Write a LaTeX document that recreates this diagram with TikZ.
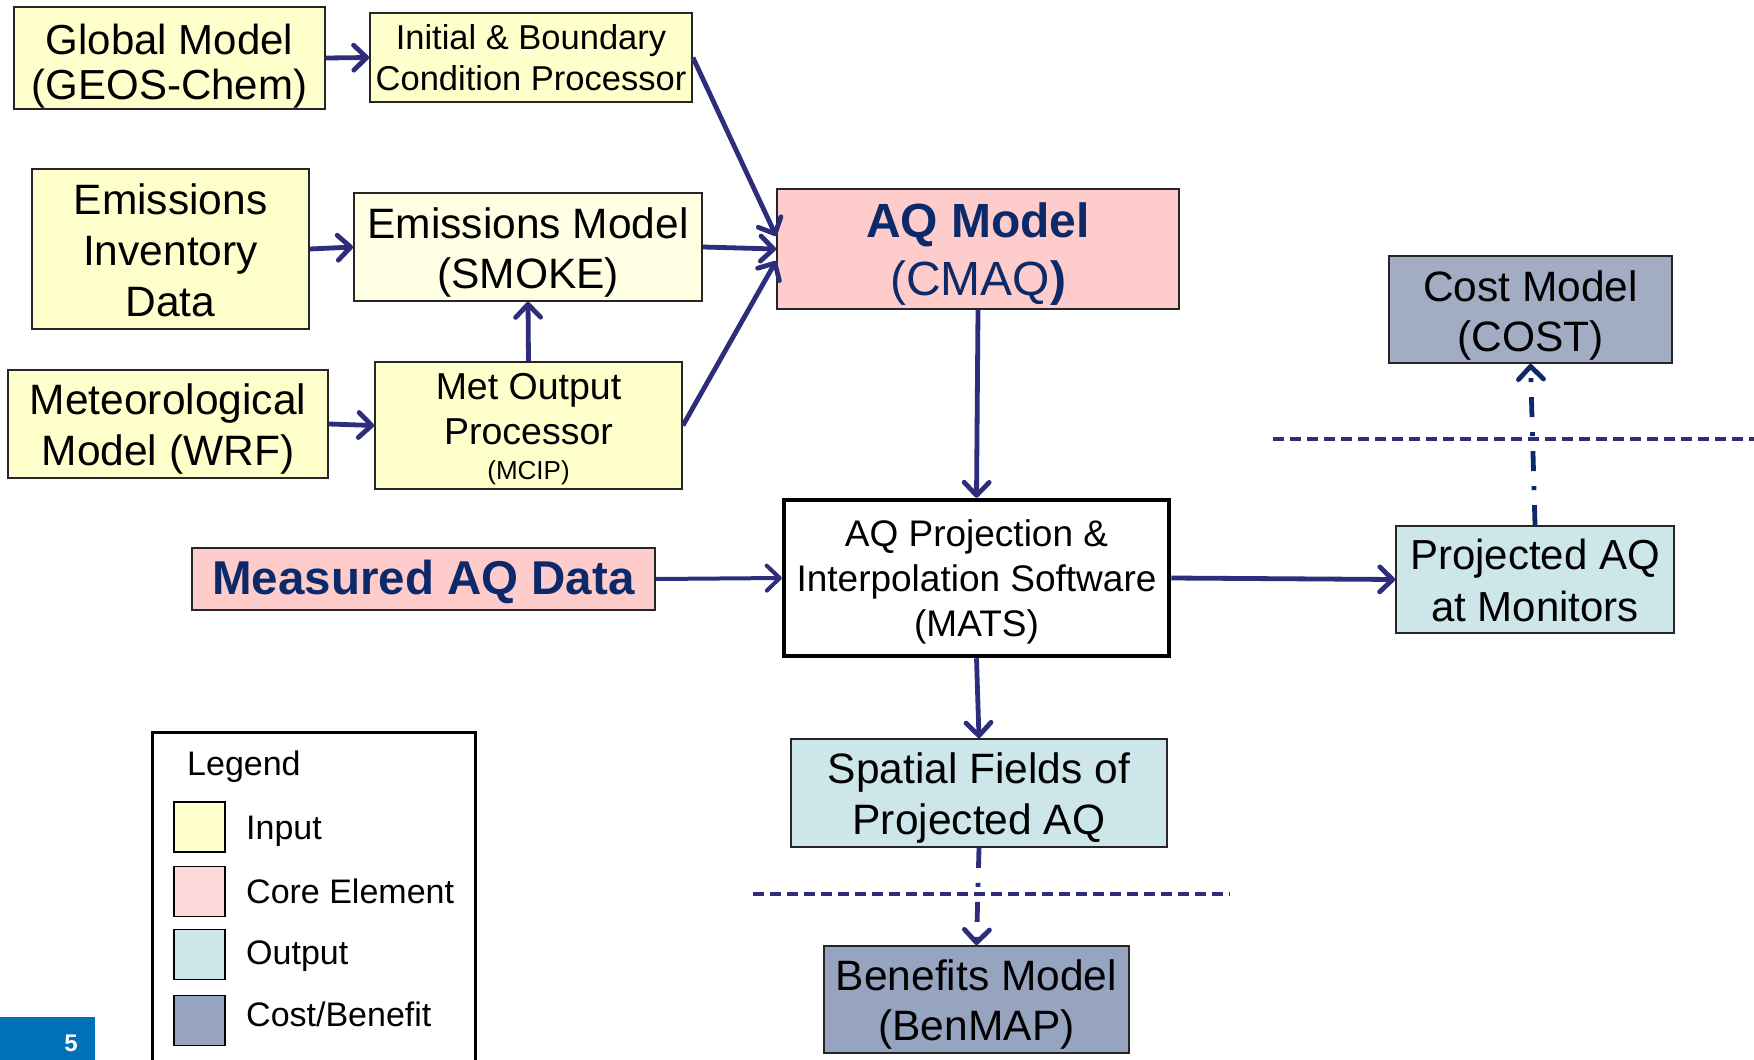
\documentclass[tikz,border=0pt]{standalone}
\usepackage{fontspec}
\setmainfont{Liberation Sans}
\usetikzlibrary{arrows.meta}
\definecolor{inputc}{HTML}{FFFFCC}
\definecolor{inputl}{HTML}{FFFFE3}
\definecolor{corec}{HTML}{FFCCCC}
\definecolor{corel}{HTML}{FFD9D9}
\definecolor{outc}{HTML}{CDE6E9}
\definecolor{costc}{HTML}{A2ADC4}
\definecolor{benc}{HTML}{97A4BF}
\definecolor{arrowc}{HTML}{2E2D7C}
\definecolor{navy}{HTML}{0C2A6A}
\definecolor{slideblue}{HTML}{0070B8}
\newcommand\fsz[2]{\fontsize{#1}{#2}\selectfont}
\begin{document}
\begin{tikzpicture}[x=1pt,y=-1pt,
  box/.style={draw=black!85, line width=1.8pt, inner sep=0pt},
  txt/.style={inner sep=0pt, align=center, text=black},
  conn/.style={draw=arrowc, line width=4.8pt, -{Straight Barb[length=13pt,width=25pt,round]}},
  dashdot/.style={draw=arrowc, line width=4.8pt, dash pattern=on 20pt off 15pt on 4pt off 15pt, -{Straight Barb[length=13pt,width=25pt,round]}},
  sepline/.style={draw=arrowc, line width=3.2pt, dash pattern=on 11pt off 6pt},
  swatch/.style={draw=black, line width=1.8pt, minimum width=51pt, minimum height=50pt, inner sep=0pt}]
\clip (0,0) rectangle (1754,1060);
\fill[white] (0,0) rectangle (1754,1060);

% input boxes
\node[box, fill=inputc, minimum width=311pt, minimum height=102pt] (gm) at (169.5,58) {};
\node[txt, font=\fsz{42}{45}] (gmt) at ([yshift=-8pt]gm.center) {Global Model\\(GEOS-Chem)};
\node[box, fill=inputc, minimum width=322pt, minimum height=89pt] (ib) at (531,57.5) {};
\node[txt, font=\fsz{34.5}{41}] (ibt) at (ib.center) {Initial \& Boundary\\Condition Processor};
\node[box, fill=inputc, minimum width=277pt, minimum height=160pt] (ei) at (170.5,249) {};
\node[txt, font=\fsz{42.5}{51}] (eit) at ([yshift=-1pt]ei.center) {Emissions\\Inventory\\Data};
\node[box, fill=inputl, minimum width=348pt, minimum height=108pt] (em) at (528,247) {};
\node[txt, font=\fsz{42.5}{50}] (emt) at ([yshift=-5.5pt]em.center) {Emissions Model\\(SMOKE)};
\node[box, fill=inputc, minimum width=320pt, minimum height=108pt] (met) at (168,424) {};
\node[txt, font=\fsz{42.5}{51}] (mett) at ([yshift=-4.5pt]met.center) {Meteorological\\Model (WRF)};
\node[box, fill=inputc, minimum width=307pt, minimum height=127pt] (mo) at (528.5,425.5) {};
\node[txt, font=\fsz{37.5}{45}] (mot) at ([yshift=-4pt]mo.center) {Met Output\\Processor\\[-10pt]{\fsz{26}{30}(MCIP)}};

% core
\node[box, fill=corec, minimum width=402pt, minimum height=120pt] (aq) at (978,249) {};
\node[txt, font=\fsz{48}{58}, text=navy] (aqt) at ([yshift=-5.5pt]aq.center) {\bfseries AQ Model\\(CMAQ{\bfseries )}};
\node[box, fill=corec, minimum width=463pt, minimum height=62pt] (meas) at (423.5,579) {};
\node[txt, font=\fsz{47.5}{52}\bfseries, text=navy] (meast) at ([yshift=-3pt]meas.center) {Measured AQ Data};
\node[box, draw=black, line width=4.5pt, fill=white, minimum width=385pt, minimum height=156pt] (mats) at (976.5,578) {};
\node[txt, font=\fsz{37}{45}] (matst) at ([yshift=-3.5pt]mats.center) {AQ Projection \&\\Interpolation Software\\(MATS)};

% outputs
\node[box, fill=outc, minimum width=278pt, minimum height=107pt] (proj) at (1535,579.5) {};
\node[txt, font=\fsz{42}{52}] (projt) at ([yshift=-1pt]proj.center) {Projected AQ\\at Monitors};
\node[box, fill=outc, minimum width=376pt, minimum height=108pt] (sf) at (979,793) {};
\node[txt, font=\fsz{42.5}{51}] (sft) at ([yshift=-5pt]sf.center) {Spatial Fields of\\Projected AQ};

% cost / benefit
\node[box, fill=costc, minimum width=283pt, minimum height=107pt] (cost) at (1530.5,309.5) {};
\node[txt, font=\fsz{42.5}{50}] (costt) at ([yshift=-5.5pt]cost.center) {Cost Model\\(COST)};
\node[box, fill=benc, minimum width=305pt, minimum height=107pt] (ben) at (976.5,999.5) {};
\node[txt, font=\fsz{42.5}{50}] (bent) at ([yshift=-5pt]ben.center) {Benefits Model\\(BenMAP)};

% connectors
\draw[conn] (gm.east) -- (ib.west);
\draw[conn] (ei.east) -- (em.west);
\draw[conn] (met.east) -- (mo.west);
\draw[conn] (mo.north) -- (em.south);
\draw[conn] (ib.east) -- ([yshift=13pt]aq.west);
\draw[conn] (em.east) -- (aq.west);
\draw[conn] (mo.east) -- ([yshift=-12pt]aq.west);
\draw[conn] (aq.south) -- (mats.north);
\draw[conn, line width=4pt] (meas.east) -- (mats.west);
\draw[conn] (mats.east) -- (proj.west);
\draw[conn] (mats.south) -- (sf.north);
\draw[dashdot] (sf.south) -- (ben.north);
\draw[dashdot, draw=navy] (proj.north) -- (cost.south);

% separator lines
\coordinate (s1a) at (1273,439);
\coordinate (s1b) at (1754,439);
\coordinate (s2a) at (753,894);
\coordinate (s2b) at (1230,894);
\draw[sepline] (s1a) -- (s1b);
\draw[sepline] (s2a) -- (s2b);

% legend
\node[draw=black, line width=3pt, minimum width=323pt, minimum height=360pt, inner sep=0pt, anchor=north west] (legend) at (151,731) {};
\node[font=\fsz{34}{40}, anchor=base west, inner sep=0pt] (legtitle) at (187,775) {Legend};
\node[swatch, fill=inputc] (sw1) at (199.5,827) {};
\node[swatch, fill=corel] (sw2) at (199.5,891.5) {};
\node[swatch, fill=outc] (sw3) at (199.5,954.5) {};
\node[swatch, fill=benc] (sw4) at (199.5,1020.5) {};
\node[font=\fsz{34}{40}, anchor=base west, inner sep=0pt] (lab1) at (246,839) {Input};
\node[font=\fsz{34}{40}, anchor=base west, inner sep=0pt] (lab2) at (246,903) {Core Element};
\node[font=\fsz{34}{40}, anchor=base west, inner sep=0pt] (lab3) at (246,964) {Output};
\node[font=\fsz{34}{40}, anchor=base west, inner sep=0pt] (lab4) at (246,1026) {Cost/Benefit};

% slide number
\node[fill=slideblue, minimum width=95pt, minimum height=44pt, inner sep=0pt, anchor=north west] (slidebox) at (0,1017) {};
\node[text=white, font=\fsz{24}{28}\bfseries, anchor=base, inner sep=0pt] (slidenum) at (71,1051) {5};
\end{tikzpicture}
\end{document}
